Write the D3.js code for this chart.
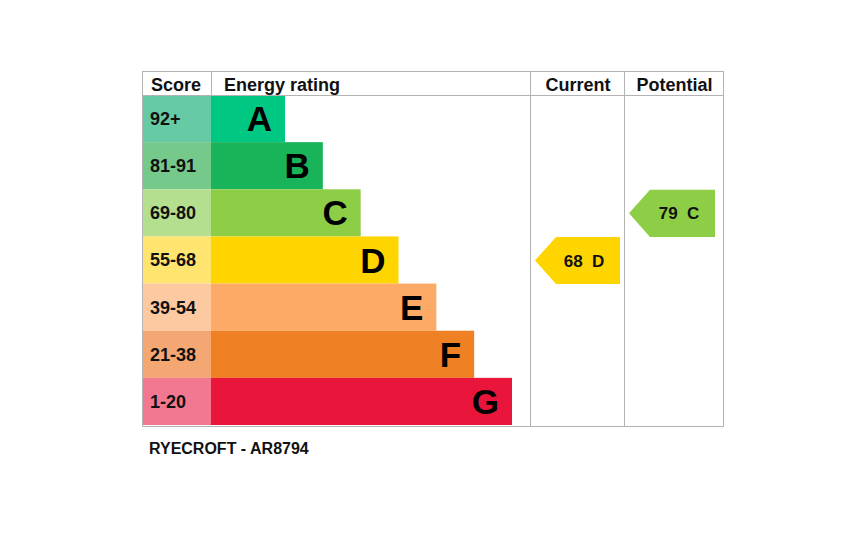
<!DOCTYPE html>
<html>
<head>
<meta charset="utf-8">
<script src="https://cdn.jsdelivr.net/npm/d3@7"></script>
<style>
  body { margin: 0; background: #fff; }
  svg { display: block; font-family: "Liberation Sans", Arial, sans-serif; }
</style>
</head>
<body>
<svg id="chart"></svg>
<script>
// EPC bands
const ratings = ["A", "B", "C", "D", "E", "F", "G"];
const scoreRanges = ["92+", "81-91", "69-80", "55-68", "39-54", "21-38", "1-20"];
const lowerBounds = [92, 81, 69, 55, 39, 21, 1];
const headers = ["Score", "Energy rating", "Current", "Potential"];
const currentScore = 68;
const potentialScore = 79;
const caption = "RYECROFT - AR8794";

const barColors = ["#00c781", "#19b459", "#8dce46", "#ffd500", "#fcaa65", "#ef8023", "#e9153b"];
const cellColors = ["#66cba4", "#74c98b", "#b4df8f", "#ffe46f", "#fdc9a1", "#f5a773", "#f27891"];

// Layout
const width = 864, height = 558;
const tLeft = 142, tTop = 71, headH = 24, tBottom = 426;
const scoreRight = 211, ratingRight = 530, currentRight = 624, tRight = 723;
const lineColor = "#b3b3b3";

const svg = d3.select("#chart")
    .attr("width", width)
    .attr("height", height);

const y = d3.scaleBand()
    .domain(ratings)
    .range([tTop + headH, tBottom - 1]);

// bar end position by band index
const barEnd = d3.scaleLinear()
    .domain([0, ratings.length - 1])
    .range([285, 512]);

const barColor = d3.scaleOrdinal().domain(ratings).range(barColors);
const cellColor = d3.scaleOrdinal().domain(ratings).range(cellColors);

const rows = svg.append("g")
    .selectAll("g")
    .data(ratings)
    .join("g");

rows.append("rect")
    .attr("x", tLeft)
    .attr("y", d => y(d))
    .attr("width", scoreRight - tLeft)
    .attr("height", y.bandwidth())
    .attr("fill", cellColor);

rows.append("rect")
    .attr("x", scoreRight)
    .attr("y", d => y(d))
    .attr("width", (d, i) => barEnd(i) - scoreRight)
    .attr("height", y.bandwidth())
    .attr("fill", barColor);

rows.append("text")
    .attr("x", 150)
    .attr("y", d => y(d) + y.bandwidth() / 2)
    .attr("dy", "0.36em")
    .attr("font-size", 18)
    .attr("font-weight", "bold")
    .attr("fill", "#111")
    .text((d, i) => scoreRanges[i]);

rows.append("text")
    .attr("x", (d, i) => barEnd(i) - 13)
    .attr("y", d => y(d) + y.bandwidth() / 2)
    .attr("dy", "0.36em")
    .attr("text-anchor", "end")
    .attr("font-size", 35)
    .attr("font-weight", "bold")
    .attr("fill", "#000")
    .text(d => d);

// grid lines
const grid = svg.append("g")
    .attr("stroke", lineColor)
    .attr("stroke-width", 1)
    .attr("fill", "none");

grid.append("rect")
    .attr("x", tLeft + 0.5)
    .attr("y", tTop + 0.5)
    .attr("width", tRight - tLeft)
    .attr("height", tBottom - tTop);

grid.append("line")
    .attr("x1", tLeft).attr("x2", tRight)
    .attr("y1", tTop + headH + 0.5).attr("y2", tTop + headH + 0.5);

grid.append("line")
    .attr("x1", scoreRight + 0.5).attr("x2", scoreRight + 0.5)
    .attr("y1", tTop).attr("y2", tTop + headH);

[ratingRight, currentRight].forEach(x => {
    grid.append("line")
        .attr("x1", x + 0.5).attr("x2", x + 0.5)
        .attr("y1", tTop).attr("y2", tBottom);
});

// headers
const headPos = [
    { x: 151, anchor: "start" },
    { x: 224, anchor: "start" },
    { x: (ratingRight + currentRight) / 2 + 1, anchor: "middle" },
    { x: (currentRight + tRight) / 2 + 1, anchor: "middle" }
];

svg.append("g")
    .selectAll("text")
    .data(headers)
    .join("text")
    .attr("x", (d, i) => headPos[i].x)
    .attr("y", 91)
    .attr("text-anchor", (d, i) => headPos[i].anchor)
    .attr("font-size", 18)
    .attr("font-weight", "bold")
    .attr("fill", "#111")
    .text(d => d);

// rating arrows
function bandOf(score) {
    const i = lowerBounds.findIndex(b => score >= b);
    return ratings[i];
}

const arrows = [
    { score: currentScore, x0: ratingRight + 5, x1: currentRight - 4 },
    { score: potentialScore, x0: currentRight + 5, x1: tRight - 8 }
];

const arrowG = svg.append("g")
    .selectAll("g")
    .data(arrows)
    .join("g");

arrowG.append("path")
    .attr("fill", d => barColor(bandOf(d.score)))
    .attr("d", d => {
        const r = bandOf(d.score);
        const t = y(r) + 0.5, b = y(r) + y.bandwidth() + 0.5;
        const m = (t + b) / 2, tip = 21;
        return `M${d.x0},${m}L${d.x0 + tip},${t}L${d.x1},${t}L${d.x1},${b}L${d.x0 + tip},${b}Z`;
    });

arrowG.append("text")
    .attr("x", d => d.x1 - 36)
    .attr("y", d => y(bandOf(d.score)) + y.bandwidth() / 2 + 0.5)
    .attr("dy", "0.36em")
    .attr("text-anchor", "middle")
    .attr("font-size", 17)
    .attr("font-weight", "bold")
    .attr("fill", "#111")
    .style("white-space", "pre")
    .text(d => `${d.score}  ${bandOf(d.score)}`);

// caption
svg.append("text")
    .attr("x", 149)
    .attr("y", 454)
    .attr("font-size", 16)
    .attr("font-weight", "bold")
    .attr("fill", "#111")
    .text(caption);
</script>
</body>
</html>
